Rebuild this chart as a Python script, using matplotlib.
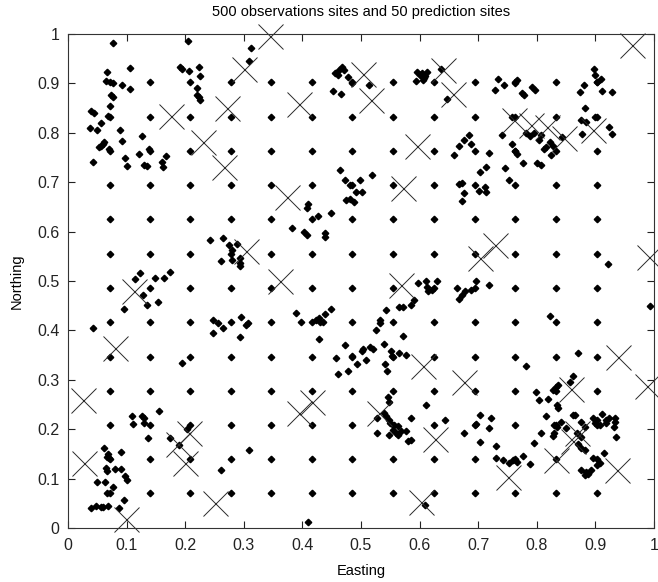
import matplotlib
matplotlib.use("Agg")
import matplotlib.pyplot as plt
import numpy as np

# regular grid of observation sites (same levels in both directions)
grid_levels = [0.0717, 0.140, 0.208, 0.278, 0.346, 0.416, 0.485,
               0.555, 0.625, 0.694, 0.763, 0.832, 0.902]

# clustered observation sites (easting, northing)
cluster_pts = [
    # upper left
    (0.077, 0.981), (0.066, 0.924), (0.065, 0.904), (0.077, 0.901), (0.092, 0.897),
    (0.105, 0.888), (0.106, 0.931), (0.073, 0.876), (0.077, 0.873), (0.071, 0.855),
    (0.040, 0.844), (0.045, 0.840), (0.056, 0.819), (0.038, 0.810), (0.049, 0.806),
    (0.089, 0.805), (0.126, 0.793), (0.092, 0.783), (0.053, 0.772), (0.057, 0.774),
    (0.060, 0.778), (0.062, 0.781), (0.070, 0.768), (0.097, 0.750), (0.122, 0.757),
    (0.139, 0.768), (0.101, 0.733), (0.130, 0.735), (0.134, 0.733), (0.043, 0.740),
    (0.168, 0.753), (0.161, 0.740), (0.162, 0.731), (0.069, 0.834),
    (0.205, 0.985), (0.191, 0.934), (0.194, 0.930), (0.207, 0.926), (0.224, 0.934),
    (0.225, 0.914), (0.220, 0.890), (0.220, 0.876), (0.224, 0.873), (0.226, 0.867),
    (0.312, 0.972), (0.309, 0.946),
    # middle
    (0.243, 0.584), (0.264, 0.587), (0.275, 0.573), (0.288, 0.575), (0.280, 0.562),
    (0.261, 0.540), (0.280, 0.543), (0.294, 0.546), (0.293, 0.536), (0.294, 0.530),
    (0.382, 0.607), (0.402, 0.600), (0.407, 0.594), (0.408, 0.648), (0.410, 0.656),
    (0.427, 0.631), (0.439, 0.597), (0.439, 0.590), (0.448, 0.637),
    (0.465, 0.725), (0.473, 0.704), (0.482, 0.694), (0.498, 0.704), (0.492, 0.681),
    (0.502, 0.681), (0.475, 0.664), (0.481, 0.666), (0.488, 0.659), (0.518, 0.714),
    # top middle
    (0.455, 0.921), (0.462, 0.928), (0.468, 0.934), (0.471, 0.927), (0.460, 0.916),
    (0.478, 0.912), (0.485, 0.901), (0.453, 0.884), (0.466, 0.879), (0.513, 0.897),
    (0.596, 0.923), (0.600, 0.917), (0.604, 0.922), (0.607, 0.911), (0.610, 0.914),
    (0.613, 0.924), (0.594, 0.905), (0.605, 0.907), (0.636, 0.930), (0.647, 0.868),
    # upper right
    (0.734, 0.909), (0.744, 0.897), (0.728, 0.886), (0.762, 0.901), (0.766, 0.907),
    (0.774, 0.881), (0.778, 0.877), (0.791, 0.892), (0.797, 0.886),
    (0.897, 0.930), (0.899, 0.918), (0.903, 0.903), (0.910, 0.908), (0.912, 0.884),
    (0.928, 0.883), (0.880, 0.897), (0.873, 0.882),
    (0.882, 0.850), (0.876, 0.826), (0.884, 0.821), (0.899, 0.832), (0.924, 0.812),
    (0.928, 0.798), (0.877, 0.797),
    (0.740, 0.795), (0.757, 0.832), (0.758, 0.777), (0.762, 0.764), (0.767, 0.757),
    (0.777, 0.738), (0.782, 0.799), (0.788, 0.793), (0.795, 0.800), (0.803, 0.786),
    (0.801, 0.739), (0.808, 0.735), (0.812, 0.767), (0.816, 0.772), (0.822, 0.782),
    (0.828, 0.773), (0.825, 0.755), (0.843, 0.791), (0.808, 0.796), (0.753, 0.705),
    (0.745, 0.729),
    (0.676, 0.786), (0.685, 0.795), (0.668, 0.773), (0.688, 0.777), (0.659, 0.756),
    (0.718, 0.759), (0.703, 0.721), (0.713, 0.730), (0.668, 0.696), (0.672, 0.699),
    (0.675, 0.678), (0.672, 0.661), (0.702, 0.683), (0.712, 0.690), (0.714, 0.680),
    (0.921, 0.535), (0.994, 0.449),
    # left middle
    (0.115, 0.505), (0.123, 0.516), (0.148, 0.506), (0.164, 0.506), (0.174, 0.519),
    (0.128, 0.471), (0.134, 0.452), (0.154, 0.458), (0.096, 0.444),
    (0.043, 0.404), (0.194, 0.333),
    (0.247, 0.421), (0.256, 0.414), (0.264, 0.404), (0.248, 0.394), (0.296, 0.427),
    (0.304, 0.411), (0.308, 0.414), (0.294, 0.387),
    (0.389, 0.435), (0.397, 0.418), (0.423, 0.422), (0.429, 0.425), (0.430, 0.418),
    (0.439, 0.433), (0.448, 0.444), (0.435, 0.418), (0.429, 0.383),
    # diagonal band
    (0.473, 0.371), (0.458, 0.345), (0.484, 0.348), (0.494, 0.332), (0.461, 0.312),
    (0.477, 0.318), (0.501, 0.359), (0.509, 0.341), (0.515, 0.367), (0.521, 0.362),
    (0.503, 0.362), (0.540, 0.372), (0.551, 0.358), (0.553, 0.348), (0.565, 0.354),
    (0.576, 0.350), (0.541, 0.332), (0.545, 0.318), (0.546, 0.265), (0.547, 0.256),
    (0.532, 0.422), (0.532, 0.415), (0.525, 0.400), (0.572, 0.388), (0.543, 0.442),
    (0.565, 0.447), (0.571, 0.447), (0.585, 0.452), (0.591, 0.462), (0.597, 0.496),
    (0.611, 0.501), (0.630, 0.499), (0.612, 0.487), (0.615, 0.479), (0.621, 0.482),
    (0.664, 0.486), (0.672, 0.471), (0.668, 0.464), (0.678, 0.479), (0.688, 0.482),
    (0.697, 0.501), (0.719, 0.491),
    # lower middle
    (0.540, 0.233), (0.543, 0.226), (0.548, 0.219), (0.528, 0.223), (0.549, 0.213),
    (0.557, 0.209), (0.554, 0.199), (0.563, 0.206), (0.568, 0.197), (0.576, 0.196),
    (0.585, 0.223), (0.559, 0.192), (0.548, 0.189), (0.528, 0.192), (0.580, 0.177),
    (0.585, 0.178), (0.563, 0.189),
    (0.611, 0.248), (0.644, 0.219), (0.675, 0.192), (0.610, 0.046),
    (0.703, 0.228), (0.697, 0.211), (0.722, 0.223), (0.719, 0.203), (0.703, 0.175),
    (0.730, 0.165), (0.730, 0.142), (0.742, 0.138), (0.753, 0.131), (0.759, 0.137),
    (0.766, 0.133), (0.776, 0.146), (0.788, 0.130),
    # lower right
    (0.782, 0.327), (0.799, 0.276), (0.803, 0.259), (0.819, 0.262), (0.828, 0.279),
    (0.833, 0.286), (0.836, 0.289), (0.835, 0.249), (0.837, 0.242), (0.816, 0.227),
    (0.830, 0.209), (0.835, 0.205), (0.808, 0.193), (0.795, 0.173), (0.856, 0.296),
    (0.862, 0.308), (0.842, 0.215), (0.850, 0.202), (0.862, 0.229), (0.876, 0.215),
    (0.882, 0.205), (0.869, 0.193), (0.875, 0.185), (0.871, 0.170), (0.882, 0.158),
    (0.870, 0.354), (0.823, 0.430), (0.829, 0.192), (0.827, 0.186), (0.896, 0.222),
    (0.903, 0.219), (0.899, 0.212), (0.907, 0.209), (0.911, 0.231), (0.918, 0.219),
    (0.924, 0.222), (0.933, 0.222), (0.933, 0.215), (0.932, 0.205), (0.936, 0.185),
    (0.918, 0.212), (0.915, 0.151), (0.903, 0.127), (0.907, 0.131), (0.896, 0.141),
    (0.893, 0.117), (0.884, 0.114), (0.882, 0.107), (0.887, 0.109), (0.876, 0.117),
    (0.876, 0.161), (0.865, 0.229),
    # lower left
    (0.061, 0.161), (0.069, 0.150), (0.070, 0.142), (0.066, 0.143), (0.091, 0.153),
    (0.064, 0.121), (0.067, 0.115), (0.080, 0.120), (0.090, 0.120), (0.097, 0.105),
    (0.101, 0.098), (0.050, 0.094), (0.063, 0.094), (0.076, 0.082), (0.066, 0.071),
    (0.096, 0.056), (0.039, 0.040), (0.048, 0.045), (0.056, 0.043), (0.060, 0.042),
    (0.068, 0.045), (0.087, 0.040),
    (0.110, 0.226), (0.111, 0.210), (0.127, 0.227), (0.130, 0.222), (0.129, 0.212),
    (0.155, 0.237), (0.137, 0.182),
    (0.174, 0.182), (0.190, 0.168), (0.203, 0.200), (0.261, 0.117), (0.309, 0.158),
    (0.410, 0.013),
]

# prediction sites
pred_sites = [
    (0.345, 0.995), (0.301, 0.929), (0.271, 0.850), (0.176, 0.833), (0.230, 0.781),
    (0.266, 0.731), (0.394, 0.858), (0.374, 0.671), (0.303, 0.561), (0.361, 0.499),
    (0.112, 0.480), (0.503, 0.920), (0.517, 0.866), (0.640, 0.927), (0.657, 0.878),
    (0.963, 0.978), (0.596, 0.774), (0.572, 0.688), (0.761, 0.826), (0.790, 0.815),
    (0.818, 0.811), (0.847, 0.790), (0.896, 0.806), (0.728, 0.573), (0.703, 0.546),
    (0.992, 0.548), (0.569, 0.492), (0.080, 0.365), (0.025, 0.260), (0.028, 0.131),
    (0.099, 0.018), (0.207, 0.192), (0.187, 0.170), (0.200, 0.131), (0.251, 0.050),
    (0.416, 0.255), (0.394, 0.232), (0.530, 0.233), (0.606, 0.327), (0.675, 0.296),
    (0.627, 0.181), (0.602, 0.053), (0.750, 0.104), (0.832, 0.138), (0.869, 0.193),
    (0.861, 0.176), (0.858, 0.282), (0.939, 0.347), (0.988, 0.287), (0.937, 0.117),
]

ticks = [0, 0.1, 0.2, 0.3, 0.4, 0.5, 0.6, 0.7, 0.8, 0.9, 1]
tick_labels = ["0", "0.1", "0.2", "0.3", "0.4", "0.5", "0.6", "0.7", "0.8", "0.9", "1"]

plt.rcParams["font.family"] = ["Liberation Sans", "DejaVu Sans"]

gx, gy = np.meshgrid(grid_levels, grid_levels)
obs = np.array(cluster_pts)
obs_x = np.concatenate([gx.ravel(), obs[:, 0]])
obs_y = np.concatenate([gy.ravel(), obs[:, 1]])
pred = np.array(pred_sites)

fig = plt.figure(figsize=(6.58, 5.82), dpi=100)
ax = fig.add_axes([68 / 658, 54 / 582, 586 / 658, 494 / 582])

ax.plot(obs_x, obs_y, linestyle="none", marker="D", markersize=3.3,
        color="black", clip_on=False)
ax.plot(pred[:, 0], pred[:, 1], linestyle="none", marker="x", markersize=18,
        markeredgewidth=0.7, color="#2a2a2a", clip_on=False)

ax.set_xlim(0, 1)
ax.set_ylim(0, 1)
ax.set_xticks(ticks)
ax.set_xticklabels(tick_labels)
ax.set_yticks(ticks)
ax.set_yticklabels(tick_labels)
ax.tick_params(direction="in", length=5, width=0.8, top=True, right=True,
               labelsize=11.5, colors="#222222")
ax.tick_params(axis="x", pad=7)
ax.tick_params(axis="y", pad=6)
for s in ax.spines.values():
    s.set_linewidth(0.8)
    s.set_color("#333333")

ax.set_title("500 observations sites and 50 prediction sites", fontsize=10.5, pad=13)
ax.set_xlabel("Easting", fontsize=10.5, labelpad=8)
ax.set_ylabel("Northing", fontsize=10.5, labelpad=10)

fig.savefig("out.png", dpi=100)
